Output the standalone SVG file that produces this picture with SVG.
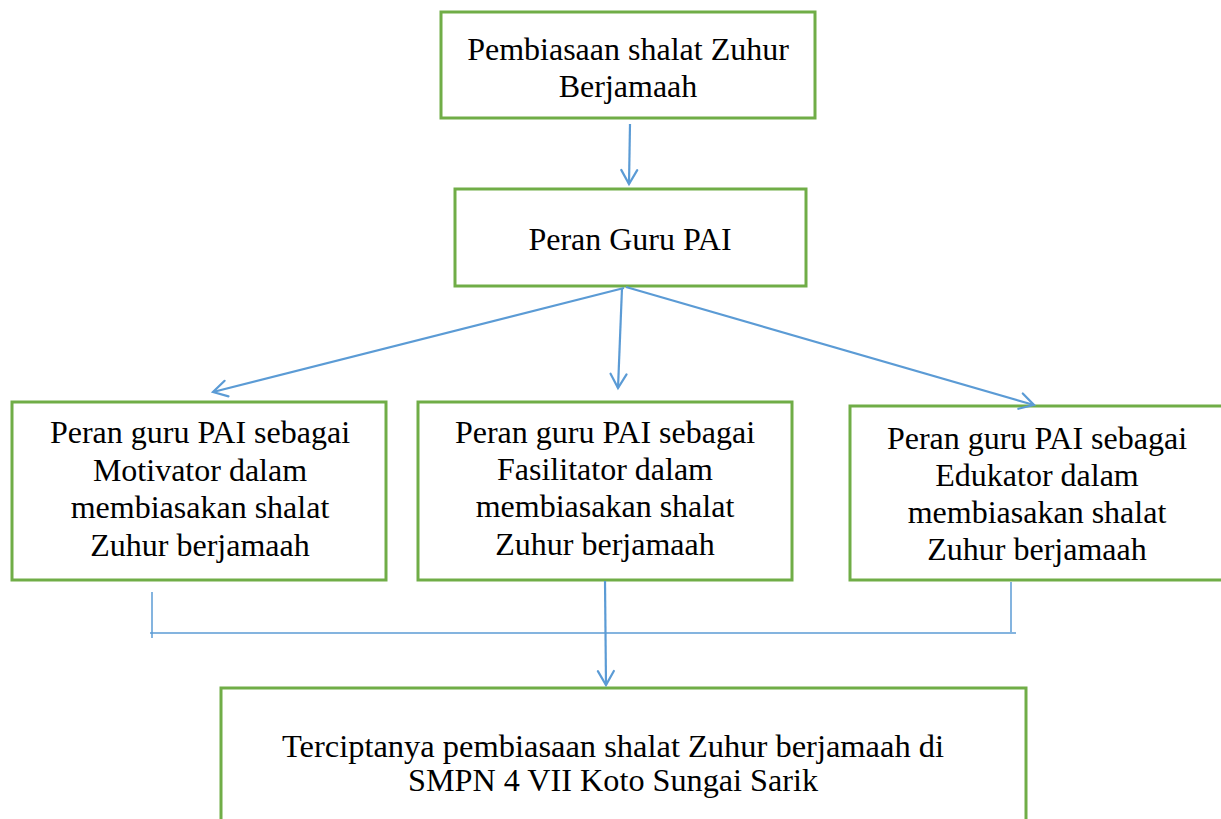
<svg xmlns="http://www.w3.org/2000/svg" width="1221" height="819" viewBox="0 0 1221 819">
<style>
.box{fill:#fff;stroke:#70AD47;stroke-width:3}
.t{font-family:"Liberation Serif","Times New Roman",serif;font-size:32px;fill:#000;text-anchor:middle}
.c{stroke:#5B9BD5;stroke-width:2.2;fill:none}
.thin{stroke:#5B9BD5;stroke-width:1.5;fill:none}
.ah{stroke:#5B9BD5;stroke-width:2.2;fill:none;stroke-linecap:round;stroke-linejoin:miter}
</style>
<defs>
<marker id="arr" viewBox="0 0 20 20" refX="16" refY="10" markerWidth="20" markerHeight="20" markerUnits="userSpaceOnUse" orient="auto">
<path d="M2,2 L16,10 L2,18" class="ah"/>
</marker>
</defs>
<rect width="1221" height="819" fill="#fff"/>
<g id="n1"><rect class="box" x="441" y="12" width="374" height="106"/>
<text class="t" x="628" y="60">Pembiasaan shalat Zuhur</text>
<text class="t" x="628" y="97">Berjamaah</text></g>
<g id="n2"><rect class="box" x="455" y="189" width="351" height="97"/>
<text class="t" x="630" y="250">Peran Guru PAI</text></g>
<g id="n3"><rect class="box" x="12" y="402" width="374" height="178"/>
<text class="t" x="200" y="443">Peran guru PAI sebagai</text>
<text class="t" x="200" y="481">Motivator dalam</text>
<text class="t" x="200" y="518">membiasakan shalat</text>
<text class="t" x="200" y="556">Zuhur berjamaah</text></g>
<g id="n4"><rect class="box" x="418" y="402" width="374" height="178"/>
<text class="t" x="605" y="443">Peran guru PAI sebagai</text>
<text class="t" x="605" y="480">Fasilitator dalam</text>
<text class="t" x="605" y="517">membiasakan shalat</text>
<text class="t" x="605" y="555">Zuhur berjamaah</text></g>
<g id="n5"><rect class="box" x="850" y="406" width="374" height="174"/>
<text class="t" x="1037" y="449">Peran guru PAI sebagai</text>
<text class="t" x="1037" y="486">Edukator dalam</text>
<text class="t" x="1037" y="523">membiasakan shalat</text>
<text class="t" x="1037" y="560">Zuhur berjamaah</text></g>
<g id="n6"><rect class="box" x="221" y="688" width="805" height="140"/>
<text class="t" x="613" y="757" textLength="662" lengthAdjust="spacingAndGlyphs">Terciptanya pembiasaan shalat Zuhur berjamaah di</text>
<text class="t" x="613" y="791" textLength="410" lengthAdjust="spacingAndGlyphs">SMPN 4 VII Koto Sungai Sarik</text></g>
<g id="connectors">
<line class="c" x1="630" y1="124" x2="629" y2="184" marker-end="url(#arr)"/>
<line class="c" x1="624" y1="288" x2="213" y2="392" marker-end="url(#arr)"/>
<line class="c" x1="622" y1="288" x2="618" y2="388" marker-end="url(#arr)"/>
<line class="c" x1="626" y1="287" x2="1034" y2="405" marker-end="url(#arr)"/>
<line class="thin" x1="152" y1="592" x2="152" y2="638"/>
<line class="thin" x1="1011" y1="582" x2="1011" y2="632"/>
<line class="thin" x1="150" y1="633" x2="1016" y2="633"/>
<line class="c" x1="605" y1="581" x2="606" y2="685" marker-end="url(#arr)"/>
</g>
</svg>
